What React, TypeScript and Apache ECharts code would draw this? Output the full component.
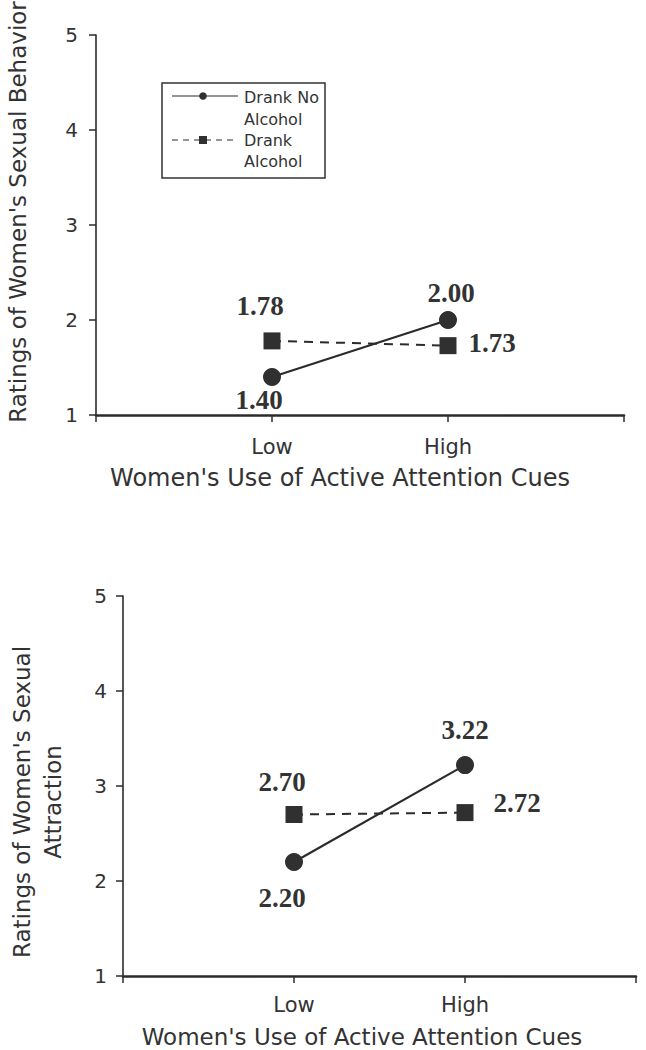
import React, { useEffect, useRef } from "react";
import * as echarts from "echarts";

const categories = ["Low", "High"];
const yTicks = [1, 2, 3, 4, 5];
const seriesNames = ["Drank No\nAlcohol", "Drank\nAlcohol"];
const behaviorNoAlcohol = [1.4, 2.0];
const behaviorAlcohol = [1.78, 1.73];
const attractionNoAlcohol = [2.2, 3.22];
const attractionAlcohol = [2.7, 2.72];
const xTitle = "Women's Use of Active Attention Cues";
const yTitleTop = "Ratings of Women's Sexual Behavior";
const yTitleBottom = "Ratings of Women's Sexual\nAttraction";

// label offsets (styling) relative to each marker
const offTopNo = [[-13, 23], [3, -27]];
const offTopAl = [[-12, -35], [44, -3]];
const offBotNo = [[-12, 36], [0, -35]];
const offBotAl = [[-12, -33], [52, -10]];

const SANS = "DejaVu Sans";
const SERIF = "Liberation Serif";
const INK = "#2b2b2b";

function mkData(vals: number[], offs: number[][]) {
  return vals.map((v, i) => ({
    value: [i + 1, v],
    label: { offset: offs[i] },
  }));
}

function mkSeries(
  name: string,
  vals: number[],
  offs: number[][],
  idx: number,
  dashed: boolean
) {
  return {
    type: "line",
    name,
    xAxisIndex: idx,
    yAxisIndex: idx,
    data: mkData(vals, offs),
    symbol: dashed ? "rect" : "circle",
    symbolSize: dashed ? 17 : 18,
    itemStyle: { color: "#303030" },
    lineStyle: {
      color: INK,
      width: dashed ? 2 : 2.2,
      type: dashed ? [9, 7] : "solid",
    },
    z: dashed ? 3 : 4,
    label: {
      show: true,
      position: "inside",
      align: "center",
      verticalAlign: "middle",
      fontFamily: SERIF,
      fontWeight: "bold",
      fontSize: 27,
      color: "#333",
      formatter: (p: any) => Number(p.value[1]).toFixed(2),
    },
  };
}

function xAxisCfg(idx: number, margin: number) {
  return {
    type: "value",
    gridIndex: idx,
    min: 0,
    max: 3,
    interval: 1,
    axisLine: { show: true, onZero: false, lineStyle: { color: INK, width: 2.5 } },
    axisTick: { show: true, length: 7, lineStyle: { color: INK, width: 1.5 } },
    splitLine: { show: false },
    axisLabel: {
      margin,
      fontFamily: SANS,
      fontSize: 21,
      color: "#333",
      formatter: (v: number) => (v >= 1 && v <= categories.length ? categories[v - 1] : ""),
    },
  };
}

function yAxisCfg(idx: number, margin: number) {
  return {
    type: "value",
    gridIndex: idx,
    min: yTicks[0],
    max: yTicks[yTicks.length - 1],
    interval: 1,
    axisLine: { show: true, lineStyle: { color: INK, width: 1.6 } },
    axisTick: { show: true, length: 7, lineStyle: { color: INK, width: 1.5 } },
    splitLine: { show: false },
    axisLabel: { margin, fontFamily: SANS, fontSize: 20, color: "#333" },
  };
}

export default function App() {
  const ref = useRef<HTMLDivElement>(null);
  useEffect(() => {
    if (!ref.current) return;
    const chart = echarts.init(ref.current, null, { renderer: "svg" });
    const legendText = { fontFamily: SANS, fontSize: 16, fill: "#333" };
    const titleStyle = { fontFamily: SANS, fontSize: 24, fill: "#333", align: "center", verticalAlign: "middle" };
    chart.setOption({
      animation: false,
      backgroundColor: "#fff",
      grid: [
        { left: 96, top: 35, width: 528, height: 380 },
        { left: 123, top: 596, width: 513, height: 380 },
      ],
      xAxis: [xAxisCfg(0, 21), xAxisCfg(1, 18)],
      yAxis: [yAxisCfg(0, 18), yAxisCfg(1, 16)],
      series: [
        mkSeries(seriesNames[0], behaviorNoAlcohol, offTopNo, 0, false),
        mkSeries(seriesNames[1], behaviorAlcohol, offTopAl, 0, true),
        mkSeries(seriesNames[0], attractionNoAlcohol, offBotNo, 1, false),
        mkSeries(seriesNames[1], attractionAlcohol, offBotAl, 1, true),
      ],
      graphic: [
        { type: "text", x: 340, y: 478, style: { text: xTitle, ...titleStyle } },
        { type: "text", x: 362, y: 1037, style: { text: xTitle, ...titleStyle, fontSize: 23 } },
        {
          type: "text",
          x: 18,
          y: 212,
          rotation: Math.PI / 2,
          style: { text: yTitleTop, ...titleStyle, fontSize: 23 },
        },
        {
          type: "text",
          x: 37,
          y: 802,
          rotation: Math.PI / 2,
          style: { text: yTitleBottom, ...titleStyle, fontSize: 23, lineHeight: 31 },
        },
        // legend
        {
          type: "rect",
          shape: { x: 162, y: 83, width: 163, height: 95 },
          style: { fill: "none", stroke: "#333", lineWidth: 1.5 },
        },
        { type: "line", shape: { x1: 172, y1: 96, x2: 238, y2: 96 }, style: { stroke: INK, lineWidth: 1.2 } },
        { type: "circle", shape: { cx: 203, cy: 96, r: 3.8 }, style: { fill: "#303030" } },
        { type: "text", x: 244, y: 97, style: { text: "Drank No", ...legendText, verticalAlign: "middle" } },
        { type: "text", x: 244, y: 119, style: { text: "Alcohol", ...legendText, verticalAlign: "middle" } },
        {
          type: "line",
          shape: { x1: 172, y1: 140, x2: 238, y2: 140 },
          style: { stroke: INK, lineWidth: 1.2, lineDash: [6, 5] },
        },
        { type: "rect", shape: { x: 199, y: 136, width: 8, height: 8 }, style: { fill: "#303030" } },
        { type: "text", x: 244, y: 140, style: { text: "Drank", ...legendText, verticalAlign: "middle" } },
        { type: "text", x: 244, y: 161, style: { text: "Alcohol", ...legendText, verticalAlign: "middle" } },
      ],
    });
    return () => chart.dispose();
  }, []);
  return (
    <div
      ref={ref}
      style={{ position: "fixed", left: 0, top: 0, width: 646, height: 1050, background: "#fff" }}
    />
  );
}
